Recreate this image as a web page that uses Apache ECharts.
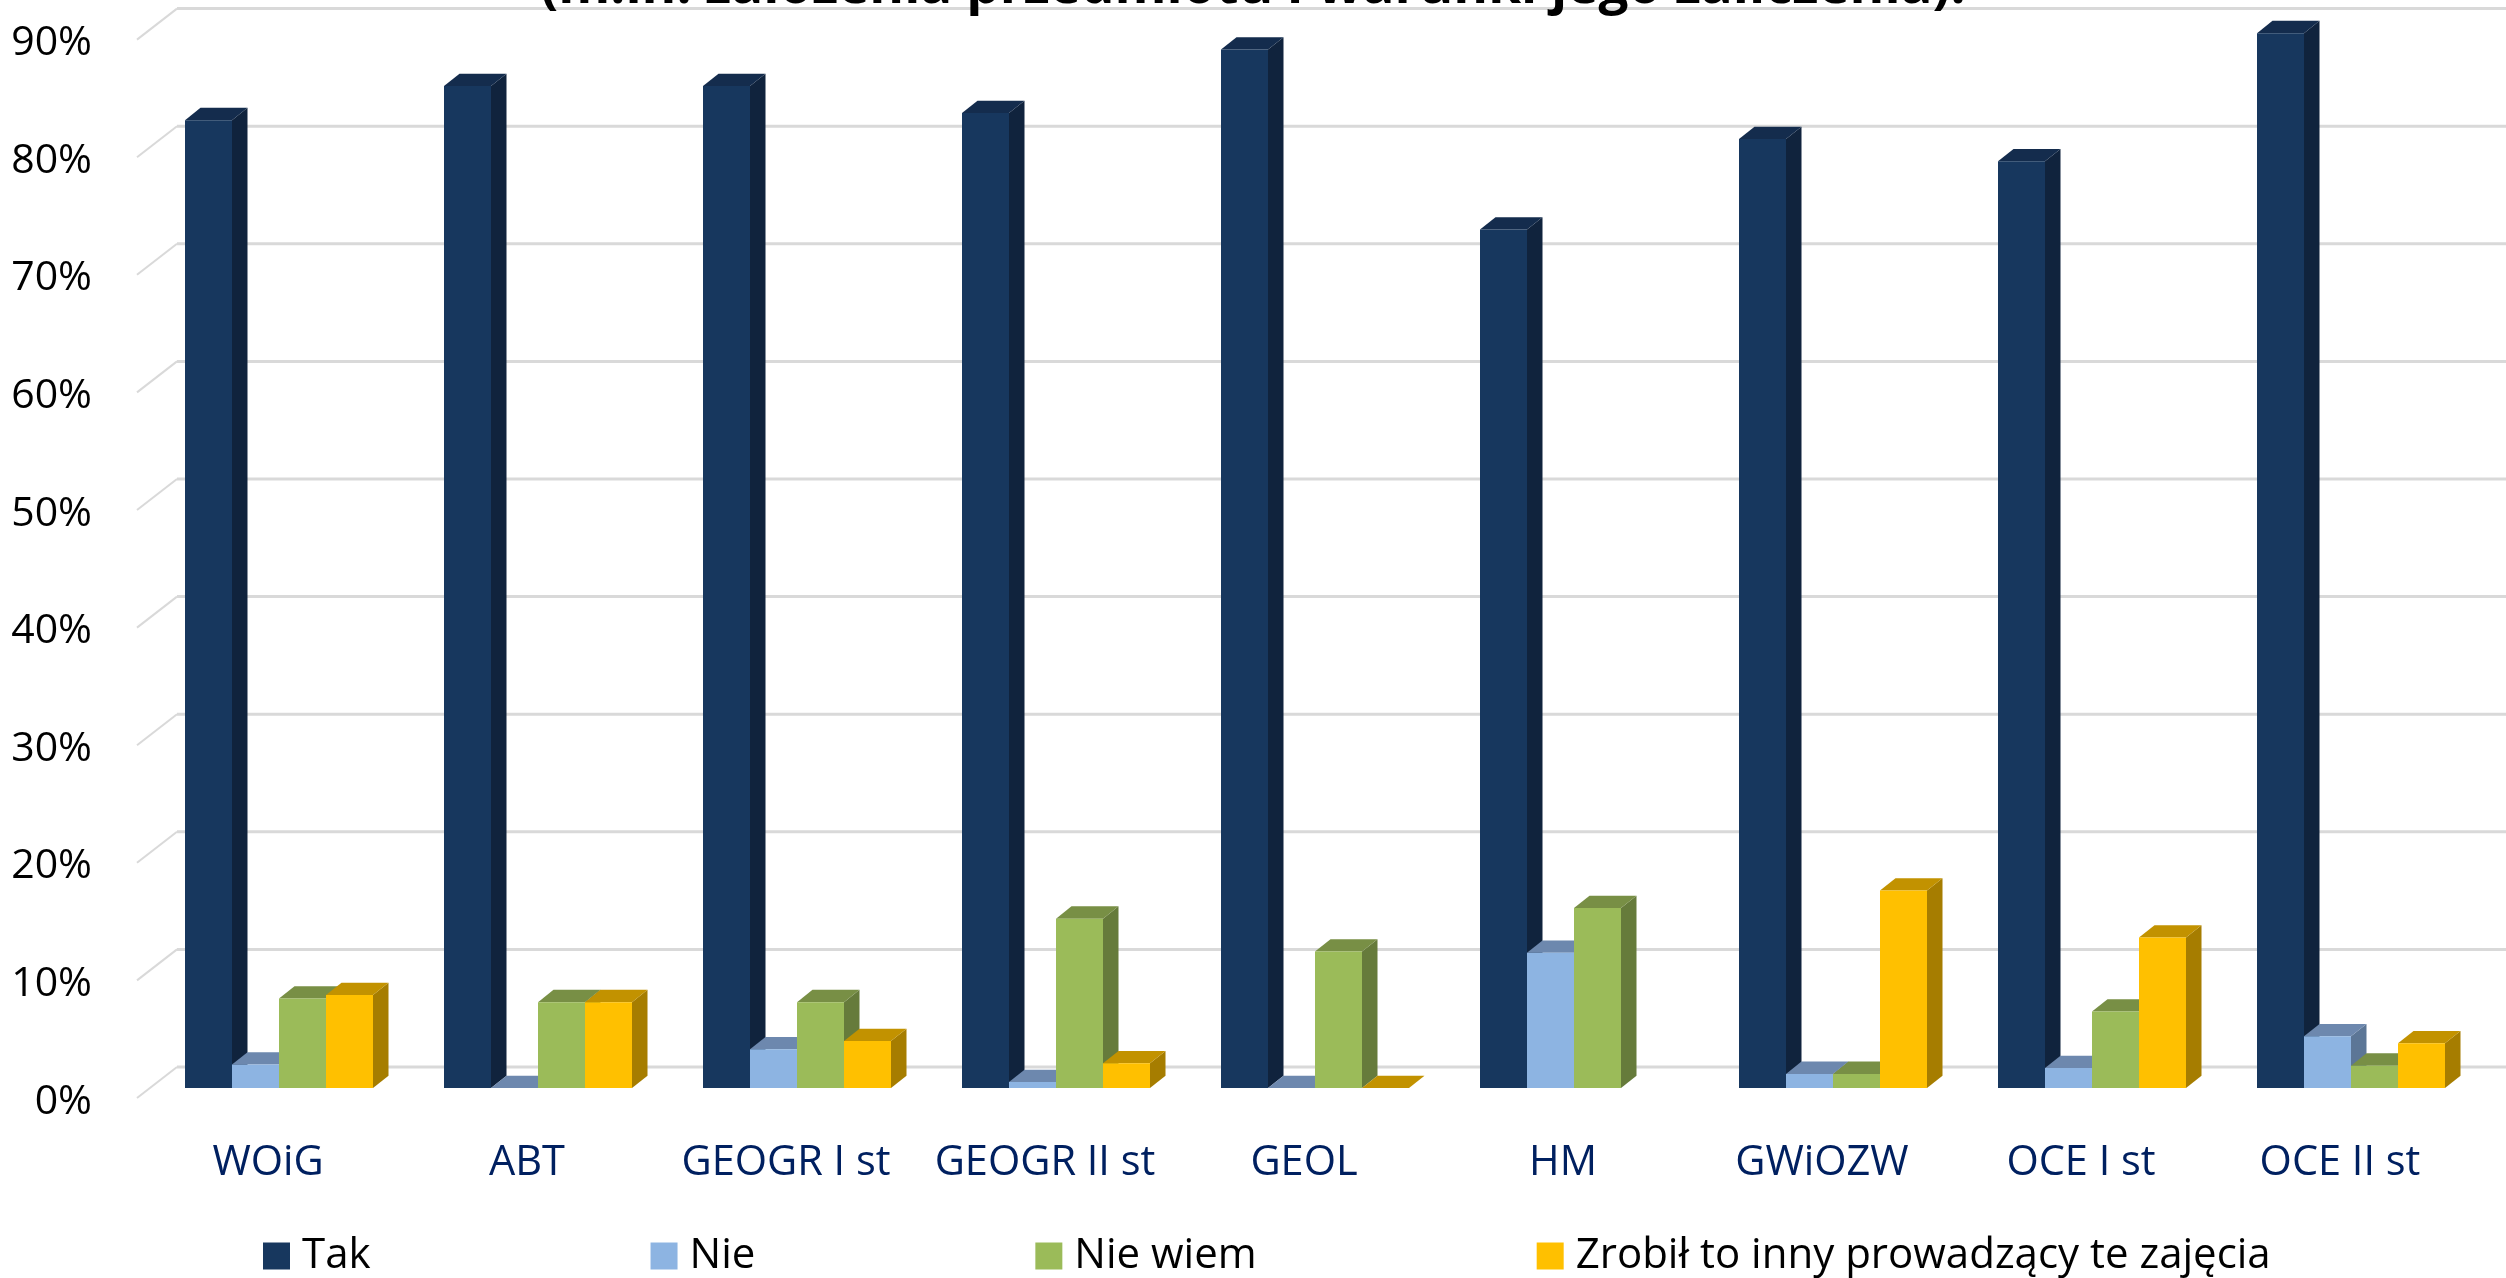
<!DOCTYPE html>
<html><head><meta charset="utf-8">
<style>html,body{margin:0;padding:0;background:#fff}#c{width:2506px;height:1278px}</style>
<script src="https://cdn.jsdelivr.net/npm/echarts@6/dist/echarts.min.js"></script>
</head><body><div id="c"></div>
<script>
const categories = ['WOiG','ABT','GEOGR I st','GEOGR II st','GEOL','HM','GWiOZW','OCE I st','OCE II st'];
const tak = [82.3,85.2,85.2,82.9,88.3,73.0,80.7,78.8,89.7];
const nie = [2.0,0,3.3,0.5,0,11.5,1.2,1.7,4.4];
const nieWiem = [7.6,7.3,7.3,14.4,11.6,15.3,1.2,6.5,1.9];
const inny = [7.9,7.3,4.0,2.1,0,null,16.8,12.8,3.8];
const yTicks = [0,10,20,30,40,50,60,70,80,90];
const seriesNames = ['Tak','Nie','Nie wiem','Zrobił to inny prowadzący te zajęcia'];
const seriesValues = [tak,nie,nieWiem,inny];
const colors = [
  {front:'#17375e',top:'#142c4d',side:'#10233d'},
  {front:'#8db4e2',top:'#6d88ae',side:'#5c7696'},
  {front:'#9bbb59',top:'#788f45',side:'#667b3b'},
  {front:'#ffc000',top:'#c29200',side:'#a67d00'}
];
const FONT = '"Open Sans", sans-serif';
const barFrac = 47/259, depthX = 15.5, depthY = 12.3;

function barRender(si){
  return function(params, api){
    const v = api.value(1);
    if (v === null || isNaN(v)) return null;
    const band = api.size([1,0])[0];
    const w = band*barFrac;
    const top = api.coord([api.value(0), v]);
    const base = api.coord([api.value(0), 0]);
    const x0 = top[0] + (si-2)*w, x1 = x0 + w, yt = top[1], yb = base[1];
    const c = colors[si];
    const shape = (pts, fill) => ({type:'polygon', shape:{points:pts}, style:{fill}});
    return {type:'group', children:[
      shape([[x1,yt],[x1+depthX,yt-depthY],[x1+depthX,yb-depthY],[x1,yb]], c.side),
      shape([[x0,yt],[x0+depthX,yt-depthY],[x1+depthX,yt-depthY],[x1,yt]], c.top),
      {type:'rect', shape:{x:x0,y:yt,width:w,height:yb-yt}, style:{fill:c.front}}
    ]};
  };
}
const wallRender = (params, api) => {
  const p = api.coord([0, api.value(1)]);
  const fy = p[1]-4;
  const bx = p[0]+40, by = fy-31;
  return {type:'group', children:[
    {type:'line', shape:{x1:p[0],y1:fy,x2:bx,y2:by}, style:{stroke:'#d9d9d9',lineWidth:2}},
    {type:'line', shape:{x1:bx,y1:by,x2:api.getWidth(),y2:by}, style:{stroke:'#d9d9d9',lineWidth:3}}
  ]};
};

const chart = echarts.init(document.getElementById('c'));
chart.setOption({
  animation:false,
  backgroundColor:'#fff',
  title:{text:'(m.in. założenia przedmiotu i warunki jego zaliczenia):', left:'center', top:-44, padding:[5,0,5,6],
    textStyle:{fontFamily:FONT,fontSize:53,fontWeight:'bold',color:'#000'}},
  legend:{data:seriesNames, left:258, top:1230, itemWidth:27, itemHeight:27, itemGap:280, icon:'rect',
    textStyle:{fontFamily:FONT,fontSize:42,color:'#000',padding:[0,0,0,7]}},
  grid:[
    {left:149.5, width:2331, top:29.6, height:1058.4},
    {left:137, width:100, top:43.6, height:1058.4}
  ],
  xAxis:[
    {type:'category', gridIndex:0, data:categories, axisLine:{show:false}, axisTick:{show:false},
     axisLabel:{fontFamily:FONT,fontSize:41.5,color:'#002060',margin:54,interval:0,padding:[0,22,0,0]}},
    {type:'value', gridIndex:1, min:0, max:1, show:false}
  ],
  yAxis:[
    {type:'value', gridIndex:0, min:0, max:90, interval:10, show:false},
    {type:'value', gridIndex:1, min:0, max:90, interval:10,
     axisLine:{show:false}, axisTick:{show:false}, splitLine:{show:false},
     axisLabel:{fontFamily:FONT,fontSize:41,color:'#000',margin:45,formatter:'{value}%'}}
  ],
  series:[
    {type:'custom', name:'wall', xAxisIndex:1, yAxisIndex:1, z:1, silent:true, clip:false,
     data:yTicks.map(t=>[0,t]), renderItem:wallRender},
    ...seriesNames.map((name,si)=>({
      type:'custom', name, xAxisIndex:0, yAxisIndex:0, z:2+si, clip:false,
      itemStyle:{color:colors[si].front},
      encode:{x:0,y:1},
      data:seriesValues[si].map((v,i)=>[i,v]),
      renderItem:barRender(si)
    }))
  ]
});
</script></body></html>
